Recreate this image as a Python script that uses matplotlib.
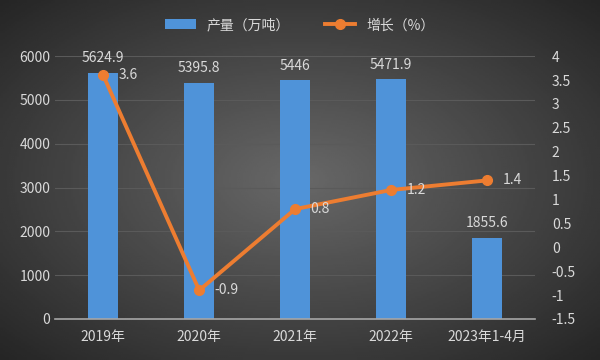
import numpy as np
import matplotlib
matplotlib.use('Agg')
from matplotlib import pyplot as plt
from matplotlib.lines import Line2D
from matplotlib.patches import Patch

plt.rcParams['font.family'] = ['Noto Sans CJK SC', 'DejaVu Sans']

categories = ['2019年', '2020年', '2021年', '2022年', '2023年1-4月']
output = [5624.9, 5395.8, 5446, 5471.9, 1855.6]
output_labels = ['5624.9', '5395.8', '5446', '5471.9', '1855.6']
growth = [3.6, -0.9, 0.8, 1.2, 1.4]

text_color = '#d9d9d9'
bar_color = '#4f93d9'
line_color = '#ed7d31'

fig = plt.figure(figsize=(6, 3.6), dpi=100)

# dark radial background
bg = fig.add_axes([0, 0, 1, 1])
yy, xx = np.mgrid[-1:1:200j, -1:1:300j]
r = np.sqrt(xx ** 2 + yy ** 2)
bg.imshow(r, cmap='gray_r', vmin=-3.2, vmax=2.2, aspect='auto', extent=[0, 1, 0, 1])
bg.set_axis_off()

ax = fig.add_axes([0.092, 0.114, 0.8, 0.73])
ax.patch.set_alpha(0)
x = np.arange(len(categories))
ax.bar(x, output, width=0.31, color=bar_color, zorder=2)
ax.set_ylim(0, 6000)
ax.set_yticks(range(0, 6001, 1000))
ax.set_xlim(-0.5, len(categories) - 0.5)
ax.set_xticks(x)
ax.set_xticklabels(categories)
ax.grid(axis='y', color='#5a5a5a', linewidth=0.8, zorder=0)
for s in ['top', 'right', 'left']:
    ax.spines[s].set_visible(False)
ax.spines['bottom'].set_color('#a6a6a6')
ax.spines['bottom'].set_linewidth(1.2)
ax.tick_params(axis='both', length=0, colors=text_color, labelsize=10)
ax.tick_params(axis='x', pad=8)
for xi, v, lab in zip(x, output, output_labels):
    ax.text(xi, v + 170, lab, ha='center', va='bottom', color=text_color, fontsize=10)

ax2 = ax.twinx()
ax2.plot(x, growth, color=line_color, linewidth=2.8, marker='o', markersize=7, zorder=3)
ax2.set_ylim(-1.5, 4)
ax2.set_yticks(np.arange(-1.5, 4.01, 0.5))
ax2.set_yticklabels(['-1.5', '-1', '-0.5', '0', '0.5', '1', '1.5', '2', '2.5', '3', '3.5', '4'])
for s in ax2.spines.values():
    s.set_visible(False)
ax2.tick_params(axis='y', length=0, colors=text_color, labelsize=10, pad=12)
for xi, g in zip(x, growth):
    ax2.text(xi + 0.16, g, '%g' % g, ha='left', va='center', color=text_color, fontsize=10)

handles = [Patch(facecolor=bar_color), Line2D([0], [0], color=line_color, lw=2.8, marker='o', markersize=7)]
fig.legend(handles, ['产量（万吨）', '增长（%）'], loc='center', bbox_to_anchor=(0.5, 0.93), ncol=2,
           frameon=False, fontsize=10, labelcolor=text_color, handlelength=2.2, columnspacing=2.5)

plt.savefig('out.png', dpi=100)
